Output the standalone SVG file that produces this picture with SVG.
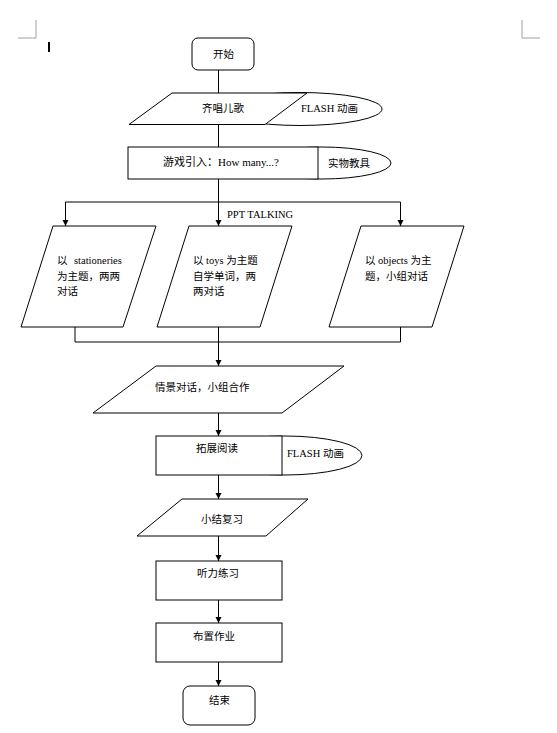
<svg xmlns="http://www.w3.org/2000/svg" width="557" height="733" viewBox="0 0 557 733">
<style>
.bg{fill:#fff}
.shape{fill:#fff;stroke:#000;stroke-width:1}
.conn{fill:none;stroke:#000;stroke-width:1}
.mark{fill:none;stroke:#a0a0a0;stroke-width:1}
.t{font-family:"Liberation Serif","Noto Sans CJK SC",serif;font-size:10.5px;fill:#000}
</style>
<defs>
<marker id="arr" markerUnits="userSpaceOnUse" markerWidth="7" markerHeight="7" refX="6" refY="3" orient="auto">
<path d="M0,0 L6,3 L0,6 z" fill="#000"/>
</marker>
</defs>
<rect class="bg" x="0" y="0" width="557" height="733"/>
<g id="page-marks">
<polyline class="mark" points="18,38 36,38 36,20"/>
<polyline class="mark" points="522,20 522,38 540,38"/>
<rect x="48" y="42" width="2" height="10" fill="#000"/>
</g>
<g id="connectors">
<line class="conn" x1="218.5" y1="70" x2="218.5" y2="93"/>
<line class="conn" x1="218.5" y1="124.5" x2="218.5" y2="147"/>
<line class="conn" x1="218.5" y1="179" x2="218.5" y2="226" marker-end="url(#arr)"/>
<line class="conn" x1="65.5" y1="202" x2="400.5" y2="202"/>
<line class="conn" x1="65.5" y1="202" x2="65.5" y2="226" marker-end="url(#arr)"/>
<line class="conn" x1="400.5" y1="202" x2="400.5" y2="226" marker-end="url(#arr)"/>
<line class="conn" x1="75" y1="327" x2="75" y2="342"/>
<line class="conn" x1="218.5" y1="327" x2="218.5" y2="342"/>
<line class="conn" x1="400.5" y1="327" x2="400.5" y2="342"/>
<line class="conn" x1="75" y1="342" x2="400.5" y2="342"/>
<line class="conn" x1="218.5" y1="342" x2="218.5" y2="366" marker-end="url(#arr)"/>
<line class="conn" x1="218.5" y1="413" x2="218.5" y2="436" marker-end="url(#arr)"/>
<line class="conn" x1="218.5" y1="475" x2="218.5" y2="499" marker-end="url(#arr)"/>
<line class="conn" x1="218.5" y1="536" x2="218.5" y2="561" marker-end="url(#arr)"/>
<line class="conn" x1="218.5" y1="600" x2="218.5" y2="623" marker-end="url(#arr)"/>
<line class="conn" x1="218.5" y1="662" x2="218.5" y2="686" marker-end="url(#arr)"/>
<text class="t" x="227" y="218">PPT TALKING</text>
</g>
<g id="start">
<rect class="shape" x="192" y="38" width="62" height="32" rx="6"/>
<text class="t" x="213" y="58">开始</text>
</g>
<g id="sing">
<ellipse class="shape" cx="300" cy="109" rx="82" ry="16.5"/>
<polygon class="shape" points="172,93 307,93 265,124.5 129,124.5"/>
<text class="t" x="202" y="112">齐唱儿歌</text>
<text class="t" x="301" y="112">FLASH 动画</text>
</g>
<g id="game">
<ellipse class="shape" cx="322" cy="163" rx="69" ry="16"/>
<rect class="shape" x="128" y="147" width="190" height="32"/>
<text class="t" x="163" y="166" style="font-size:11px">游戏引入：How many...?</text>
<text class="t" x="328" y="167">实物教具</text>
</g>
<g id="stationeries">
<polygon class="shape" points="53,226 156,226 123,327 21,327"/>
<text class="t" x="57" y="264">以</text>
<text class="t" x="74" y="264">stationeries</text>
<text class="t" x="57" y="280">为主题，两两</text>
<text class="t" x="57" y="295">对话</text>
</g>
<g id="toys">
<polygon class="shape" points="189,226 292,226 260,327 157,327"/>
<text class="t" x="193" y="264">以 toys 为主题</text>
<text class="t" x="193" y="280">自学单词，两</text>
<text class="t" x="193" y="295">两对话</text>
</g>
<g id="objects">
<polygon class="shape" points="361,226 464,226 432,327 329,327"/>
<text class="t" x="365" y="264">以 objects 为主</text>
<text class="t" x="365" y="280">题，小组对话</text>
</g>
<g id="scene">
<polygon class="shape" points="156,366 344,366 282,413 93,413"/>
<text class="t" x="155" y="391">情景对话，小组合作</text>
</g>
<g id="reading">
<ellipse class="shape" cx="285" cy="455.5" rx="77" ry="19.5"/>
<rect class="shape" x="156" y="436" width="126" height="39"/>
<text class="t" x="196" y="452">拓展阅读</text>
<text class="t" x="287" y="457">FLASH 动画</text>
</g>
<g id="summary">
<polygon class="shape" points="182,499 308,499 266,536 137,536"/>
<text class="t" x="201" y="523">小结复习</text>
</g>
<g id="listening">
<rect class="shape" x="156" y="561" width="126" height="39"/>
<text class="t" x="197" y="577">听力练习</text>
</g>
<g id="homework">
<rect class="shape" x="156" y="623" width="126" height="39"/>
<text class="t" x="193" y="640">布置作业</text>
</g>
<g id="end">
<rect class="shape" x="183" y="686" width="72" height="39" rx="7"/>
<text class="t" x="209" y="704">结束</text>
</g>
</svg>
